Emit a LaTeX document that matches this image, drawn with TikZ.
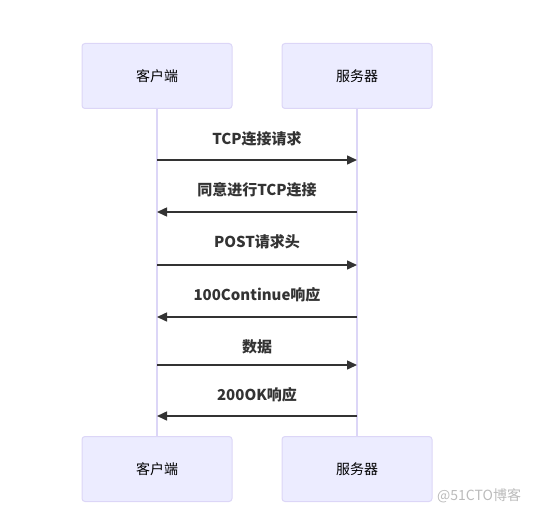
\documentclass[tikz,border=0pt]{standalone}
\usepackage{fontspec}
\setmainfont{Noto Sans CJK SC}
\newfontfamily\cjkfont{Noto Sans CJK SC}
\usetikzlibrary{arrows.meta}
\definecolor{actorfill}{HTML}{ECECFF}
\definecolor{actorline}{HTML}{DCD6F7}
\definecolor{msgcol}{HTML}{333333}
\definecolor{wmcol}{HTML}{BBBBBB}
\tikzset{
  actor/.style={draw=actorline, fill=actorfill, line width=1pt, rounded corners=3pt,
    minimum width=150pt, minimum height=65pt, inner sep=0pt, font=\fontsize{14pt}{16pt}\selectfont, text=black},
  lifeline/.style={draw=actorline, line width=1.5pt},
  msg/.style={draw=msgcol, line width=1.5pt, -{Triangle[length=10pt,width=9pt]}},
  msglabel/.style={font=\fontsize{15pt}{18pt}\selectfont\bfseries, text=msgcol, inner sep=0pt},
}
\begin{document}
\begin{tikzpicture}[x=1pt,y=-1pt]
\useasboundingbox (0,0) rectangle (534,513);
\node[actor] (c1) at (157,76) {客户端};
\node[actor] (s1) at (357,76) {服务器};
\node[actor] (c2) at (157,469) {客户端};
\node[actor] (s2) at (357,469) {服务器};
\draw[lifeline] (c1.south) -- (c2.north);
\draw[lifeline] (s1.south) -- (s2.north);
% message anchor coordinates
\foreach \n/\y in {1/160,2/212,3/265,4/317,5/365,6/416}{
  \coordinate (cl\n) at (157,\y);
  \coordinate (sl\n) at (357,\y);
}
\draw[msg] (cl1) -- (sl1);
\draw[msg] (sl2) -- (cl2);
\draw[msg] (cl3) -- (sl3);
\draw[msg] (sl4) -- (cl4);
\draw[msg] (cl5) -- (sl5);
\draw[msg] (sl6) -- (cl6);
\node[msglabel] (m1) at (257,138.5) {TCP连接请求};
\node[msglabel] (m2) at (257,189.5) {同意进行TCP连接};
\node[msglabel] (m3) at (257,241.5) {POST请求头};
\node[msglabel] (m4) at (257,294.5) {100Continue响应};
\node[msglabel] (m5) at (257,346.5) {数据};
\node[msglabel] (m6) at (257,394.5) {200OK响应};
\node[font=\fontsize{14pt}{16pt}\selectfont, text=wmcol, inner sep=0pt, anchor=west] (wm) at (437,496) {@51CTO博客};
\end{tikzpicture}
\end{document}
